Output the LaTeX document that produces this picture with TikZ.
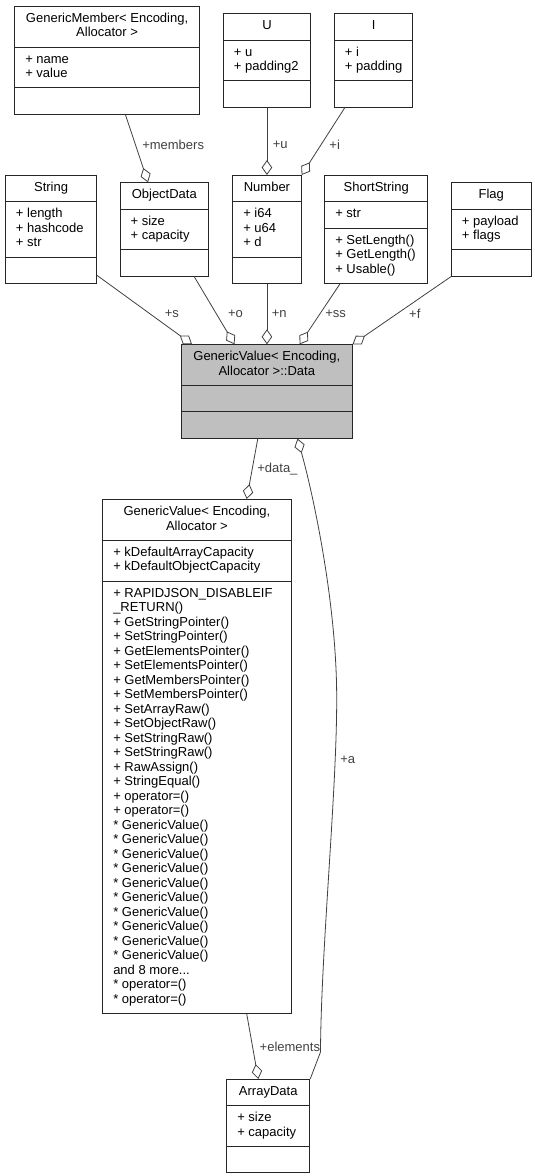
\documentclass[tikz,border=0pt]{standalone}
\usepackage{fontspec}
\setmainfont{Liberation Sans}
\usepackage{tikz}
\usetikzlibrary{shapes.multipart, arrows.meta}
\definecolor{data_gray}{HTML}{BFBFBF}
\definecolor{edge_gray}{HTML}{404040}
\newcommand{\umltitle}[1]{\begin{tabular}{@{}c@{}}#1\end{tabular}}
\newcommand{\umllines}[1]{\begin{tabular}{@{}l@{}}#1\end{tabular}}
\tikzset{
  umlclass/.style = {rectangle split, rectangle split parts=3, draw=black!85, line width=0.9pt,
    fill=white, anchor=north west, inner xsep=10.5pt, inner ysep=5.45pt,
    rectangle split part align={center,left,left},
    rectangle split empty part height=10.15pt, rectangle split empty part depth=4.35pt,
    font=\fontsize{13}{14.5}\selectfont},
  agg/.style = {edge_gray, line width=0.8pt, -{Diamond[open, length=15pt, width=10.5pt]}},
  lbl/.style = {font=\fontsize{13}{14.5}\selectfont, inner sep=0pt, anchor=west}
}

\begin{document}
\begin{tikzpicture}[x=1pt, y=-1pt]
      \useasboundingbox (0,0) rectangle (535,1176);

      % top row
      \node[umlclass, minimum width=184.7] (member) at (14.3,5.7)
        {\umltitle{GenericMember< Encoding,\\ Allocator >}
         \nodepart{two}\umllines{+ name\\+ value}
         \nodepart{three}};
      \node[umlclass, minimum width=87] (union_u) at (223,13.3)
        {\umltitle{U}
         \nodepart{two}\umllines{+ u\\+ padding2}
         \nodepart{three}};
      \node[umlclass, minimum width=78.3] (union_i) at (334,13.3)
        {\umltitle{I}
         \nodepart{two}\umllines{+ i\\+ padding}
         \nodepart{three}};

      % second row
      \node[umlclass, minimum width=91.3] (string) at (5,175)
        {\umltitle{String}
         \nodepart{two}\umllines{+ length\\+ hashcode\\+ str}
         \nodepart{three}};
      \node[umlclass, minimum width=88.3] (objdata) at (119.7,182.3)
        {\umltitle{ObjectData}
         \nodepart{two}\umllines{+ size\\+ capacity}
         \nodepart{three}};
      \node[umlclass, minimum width=68.4] (number) at (232.3,175)
        {\umltitle{Number}
         \nodepart{two}\umllines{+ i64\\+ u64\\+ d}
         \nodepart{three}};
      \node[umlclass, minimum width=103] (shortstr) at (324.3,175)
        {\umltitle{ShortString}
         \nodepart{two}\umllines{+ str}
         \nodepart{three}\umllines{+ SetLength()\\+ GetLength()\\+ Usable()}};
      \node[umlclass, minimum width=79.7] (flag) at (451,182.3)
        {\umltitle{Flag}
         \nodepart{two}\umllines{+ payload\\+ flags}
         \nodepart{three}};

      % the data union
      \node[umlclass, minimum width=170.7, fill=data_gray] (data) at (181,344.3)
        {\umltitle{GenericValue< Encoding,\\ Allocator >::Data}
         \nodepart{two}
         \nodepart{three}};

      \node[umlclass, minimum width=188.4] (genval) at (102.3,499)
        {\umltitle{GenericValue< Encoding,\\ Allocator >}
         \nodepart{two}\umllines{+ kDefaultArrayCapacity\\+ kDefaultObjectCapacity}
         \nodepart{three}\umllines{+ RAPIDJSON\_DISABLEIF\\\_RETURN()\\+ GetStringPointer()\\+ SetStringPointer()\\
           + GetElementsPointer()\\+ SetElementsPointer()\\+ GetMembersPointer()\\+ SetMembersPointer()\\
           + SetArrayRaw()\\+ SetObjectRaw()\\+ SetStringRaw()\\+ SetStringRaw()\\+ RawAssign()\\
           + StringEqual()\\+ operator=()\\+ operator=()\\{*} GenericValue()\\{*} GenericValue()\\
           {*} GenericValue()\\{*} GenericValue()\\{*} GenericValue()\\{*} GenericValue()\\
           {*} GenericValue()\\{*} GenericValue()\\{*} GenericValue()\\{*} GenericValue()\\
           and 8 more...\\{*} operator=()\\{*} operator=()}};

      \node[umlclass, minimum width=83] (arrdata) at (226.3,1079)
        {\umltitle{ArrayData}
         \nodepart{two}\umllines{+ size\\+ capacity}
         \nodepart{three}};

      % aggregations
      \draw[agg] ([xshift=18.3pt]member.south) -- ([xshift=28.3pt]objdata.north west)
        node[lbl, pos=0.45, xshift=6.3pt] (l_members) {+members};
      \draw[agg] (union_u.south) -- (number.north)
        node[lbl, pos=0.55, xshift=5.5pt] (l_u) {+u};
      \draw[agg] ([xshift=-28.85pt]union_i.south) -- (number.north east)
        node[lbl, pos=0.55, xshift=8pt] (l_i) {+i};

      \draw[agg] ([yshift=8.3pt]string.south east) -- ([xshift=11pt]data.north west)
        node[lbl, pos=0.555, xshift=14.6pt] (l_s) {+s};
      \draw[agg] ([xshift=-14.7pt]objdata.south east) -- ([xshift=53.5pt]data.north west)
        node[lbl, pos=0.545, xshift=11.5pt] (l_o) {+o};
      \draw[agg] (number.south) -- (number.south |- data.north)
        node[lbl, pos=0.5, xshift=4.5pt] (l_n) {+n};
      \draw[agg] ([xshift=15.7pt]shortstr.south west) -- ([xshift=118.6pt]data.north west)
        node[lbl, pos=0.5, xshift=5.2pt] (l_ss) {+ss};
      \draw[agg] (flag.south west) -- (data.north east)
        node[lbl, pos=0.545, xshift=11.4pt] (l_f) {+f};

      \draw[agg] ([xshift=-9pt]data.south) -- ([xshift=144.4pt]genval.north west)
        node[lbl, pos=0.5, xshift=4.7pt] (l_data) {+data\_};
      \draw[agg] ([xshift=144.4pt]genval.south west) -- ([xshift=32pt]arrdata.north west)
        node[lbl, pos=0.5, xshift=6.8pt] (l_elements) {+elements};
      \draw[agg] (arrdata.north east) -- (320.5,1052)
        .. controls (321,950) and (337,790) .. (336.7,697)
        node[lbl, pos=0.8, xshift=4.8pt] (l_a) {+a}
        .. controls (336.5,600) and (312,490) .. ([xshift=116.5pt]data.south west);
\end{tikzpicture}
\end{document}
